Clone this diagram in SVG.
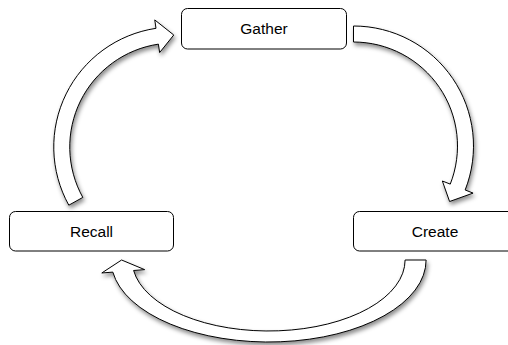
<svg xmlns="http://www.w3.org/2000/svg" width="508" height="345" viewBox="0 0 508 345">
<defs>
<style>
.box{fill:#fff;stroke:#000;stroke-width:1}
.lbl{font-family:"Liberation Sans",Arial,sans-serif;font-size:15.5px;fill:#000;text-anchor:middle}
.arr{fill:#fff;stroke:#000;stroke-width:1;stroke-linejoin:miter;filter:url(#sh)}
</style>
<filter id="sh" x="-20%" y="-20%" width="140%" height="140%">
<feDropShadow dx="1.5" dy="3" stdDeviation="2" flood-color="#000" flood-opacity="0.45"/>
</filter>
</defs>
<rect width="508" height="345" fill="#fff"/>
<g id="connectors">
<path id="recall-gather" class="arr" d="M68.8,205.18 A120,120 0 0 1 156.01,28.32 L154.76,19.91 L173.75,35 L159.64,52.55 L158.38,44.14 A104,104 0 0 0 82.79,197.42 Z"/>
<path id="gather-create" class="arr" d="M353.5,26 A120,120 0 0 1 465.15,189.98 L473.06,193.1 L449.6,201.5 L442.35,181 L450.26,184.12 A104,104 0 0 0 353.5,42 Z"/>
<path id="create-recall" class="arr" d="M426.1,260 A157.5,82 0 0 1 112.83,272.12 L101.8,272.97 L121.6,260 L144.64,269.64 L133.6,270.49 A136.5,71 0 0 0 405.1,260 Z"/>
</g>
<g id="gather">
<rect class="box" x="181.5" y="8.5" width="165" height="40.5" rx="6"/>
<text class="lbl" x="264" y="34">Gather</text>
</g>
<g id="recall">
<rect class="box" x="9.5" y="211.5" width="164" height="39.5" rx="6"/>
<text class="lbl" x="91.5" y="236.5">Recall</text>
</g>
<g id="create">
<rect class="box" x="353.5" y="211.5" width="165" height="39.5" rx="6"/>
<text class="lbl" x="435" y="236.5">Create</text>
</g>
</svg>
